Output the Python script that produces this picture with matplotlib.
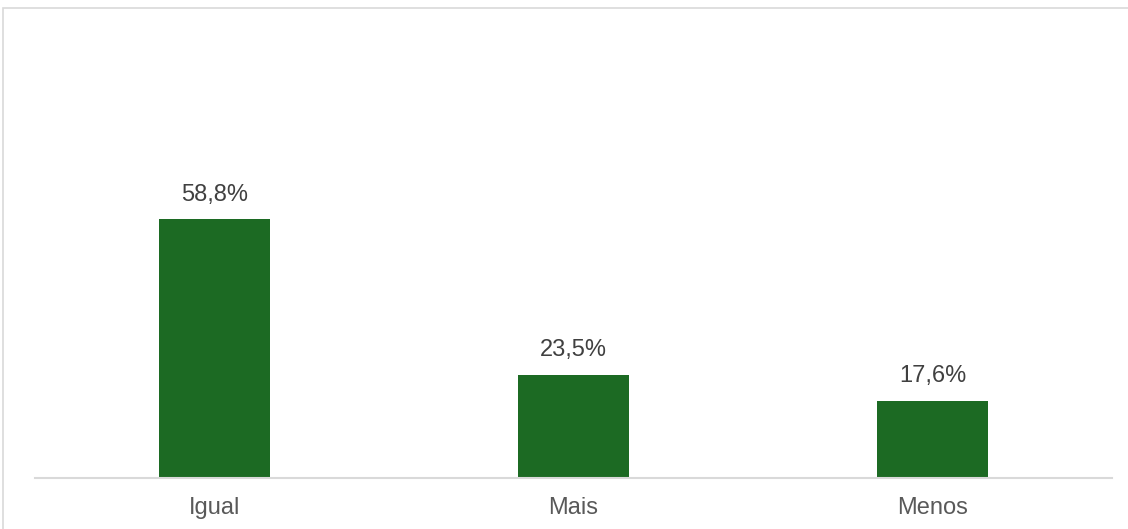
import matplotlib.pyplot as plt
from matplotlib.patches import Rectangle

categories = ['Igual', 'Mais', 'Menos']
values = [58.8, 23.5, 17.6]
labels = ['58,8%', '23,5%', '17,6%']

plt.rcParams['font.family'] = ['Liberation Sans', 'DejaVu Sans']

W, H = 1128, 529
fig = plt.figure(figsize=(W / 100, H / 100), dpi=100)

# outer chart border (light gray), runs off the bottom/right of the image
fig.patches.append(Rectangle((3 / W, -0.1), 1.2, (H - 8) / H + 0.1, transform=fig.transFigure,
                             fill=False, edgecolor='#d9d9d9', linewidth=1.2))

ax = fig.add_axes([35 / W, (H - 478) / H, (1112 - 35) / W, 308 / H])
x = range(len(categories))
bars = ax.bar(x, values, width=0.31, color='#1c6a23')
ax.set_xlim(-0.5, len(categories) - 0.5)
ax.set_ylim(0, 70)

for b, lab in zip(bars, labels):
    ax.text(b.get_x() + b.get_width() / 2, b.get_height() + 3.0, lab,
            ha='center', va='bottom', fontsize=17, color='#404040')

ax.set_xticks(list(x))
ax.set_xticklabels(categories, fontsize=17, color='#595959')
ax.tick_params(axis='x', length=0, pad=14)
ax.set_yticks([])
for s in ['top', 'right', 'left']:
    ax.spines[s].set_visible(False)
ax.spines['bottom'].set_color('#d9d9d9')
ax.spines['bottom'].set_linewidth(1.5)

plt.savefig('out.png', dpi=100)
